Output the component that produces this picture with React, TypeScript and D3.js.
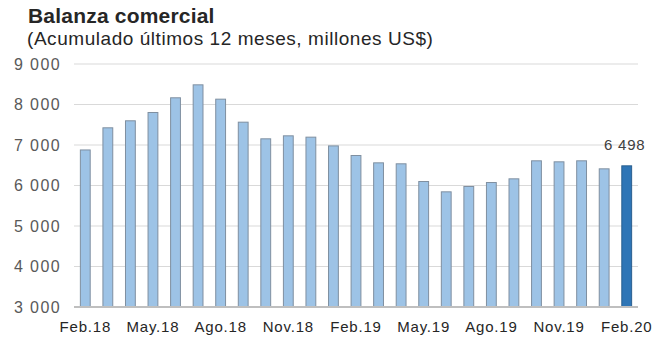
import { useRef, useEffect } from "react";
import * as d3 from "d3";

const months = [
  "Feb.18", "Mar.18", "Abr.18", "May.18", "Jun.18", "Jul.18", "Ago.18", "Sep.18", "Oct.18",
  "Nov.18", "Dic.18", "Ene.19", "Feb.19", "Mar.19", "Abr.19", "May.19", "Jun.19", "Jul.19",
  "Ago.19", "Sep.19", "Oct.19", "Nov.19", "Dic.19", "Ene.20", "Feb.20",
];
const balance = [
  6890, 7437, 7610, 7815, 8178, 8498, 8144, 7576, 7165, 7239, 7206, 6990,
  6753, 6572, 6548, 6111, 5856, 5988, 6086, 6177, 6622, 6597, 6622, 6424, 6498,
];
const yTicks = [3000, 4000, 5000, 6000, 7000, 8000, 9000];
const shownLabels = ["Feb.18", "May.18", "Ago.18", "Nov.18", "Feb.19", "May.19", "Ago.19", "Nov.19", "Feb.20"];

const fmt = (v: number) => d3.format(",")(v).replace(/,/g, " ");

export default function App() {
  const svgRef = useRef<SVGSVGElement>(null);

  useEffect(() => {
    const width = 670;
    const height = 355;
    const margin = { top: 64, right: 32, bottom: 48, left: 74 };
    const innerW = width - margin.left - margin.right;
    const innerH = height - margin.top - margin.bottom;

    const svg = d3.select(svgRef.current);
    svg.selectAll("*").remove();

    const font = "Arial, 'Liberation Sans', sans-serif";

    // Title
    svg.append("text")
      .attr("x", 28).attr("y", 23)
      .attr("fill", "#262626")
      .attr("font-family", font)
      .attr("font-weight", "bold")
      .attr("font-size", "21px")
      .attr("letter-spacing", "0.2px")
      .text("Balanza comercial");

    svg.append("text")
      .attr("x", 27).attr("y", 45)
      .attr("fill", "#262626")
      .attr("font-family", font)
      .attr("font-size", "19px")
      .attr("letter-spacing", "0.55px")
      .text("(Acumulado últimos 12 meses, millones US$)");

    const g = svg.append("g").attr("transform", `translate(${margin.left},${margin.top})`);

    const x = d3.scaleBand().domain(months).range([0, innerW]).paddingInner(0.52).paddingOuter(0.26);
    const y = d3.scaleLinear().domain([3000, 9000]).range([innerH, 0]);

    // Grid
    g.selectAll(".grid")
      .data(yTicks.slice(1))
      .enter()
      .append("line")
      .attr("x1", 0).attr("x2", innerW)
      .attr("y1", (d) => y(d)).attr("y2", (d) => y(d))
      .attr("stroke", "#d9d9d9")
      .attr("stroke-width", 1);

    // Y labels
    g.selectAll(".ylab")
      .data(yTicks)
      .enter()
      .append("text")
      .attr("x", -13)
      .attr("y", (d) => y(d) + 5.5)
      .attr("text-anchor", "end")
      .attr("fill", "#595959")
      .attr("font-family", font)
      .attr("font-size", "16px")
      .attr("letter-spacing", "1.4px")
      .text((d) => fmt(d));

    // Bars
    g.selectAll(".bar")
      .data(balance)
      .enter()
      .append("rect")
      .attr("x", (_, i) => x(months[i])! + 0.5)
      .attr("width", x.bandwidth() - 1)
      .attr("y", (d) => y(d) + 0.5)
      .attr("height", (d) => innerH - y(d) - 0.5)
      .attr("fill", (_, i) => (i === balance.length - 1 ? "#2e75b6" : "#9dc3e6"))
      .attr("stroke", (_, i) => (i === balance.length - 1 ? "#2a5f8f" : "#7f8fa0"))
      .attr("stroke-width", 1);

    // Baseline
    g.append("line")
      .attr("x1", 0).attr("x2", innerW)
      .attr("y1", innerH).attr("y2", innerH)
      .attr("stroke", "#bfbfbf")
      .attr("stroke-width", 2);

    // X labels
    g.selectAll(".xlab")
      .data(shownLabels)
      .enter()
      .append("text")
      .attr("x", (d) => x(d)! + x.bandwidth() / 2)
      .attr("y", innerH + 25)
      .attr("text-anchor", "middle")
      .attr("fill", "#262626")
      .attr("font-family", font)
      .attr("font-size", "15px")
      .attr("letter-spacing", "0.8px")
      .text((d) => d);

    // Last value label
    const last = balance[balance.length - 1];
    const lastM = months[months.length - 1];
    g.append("text")
      .attr("x", x(lastM)! + x.bandwidth() / 2 - 2)
      .attr("y", y(last) - 15)
      .attr("text-anchor", "middle")
      .attr("fill", "#404040")
      .attr("font-family", font)
      .attr("font-size", "15px")
      .attr("letter-spacing", "0.8px")
      .text(fmt(last));
  }, []);

  return (
    <svg
      ref={svgRef}
      width={670}
      height={355}
      style={{ position: "absolute", left: 0, top: 0, background: "#fff" }}
    />
  );
}
